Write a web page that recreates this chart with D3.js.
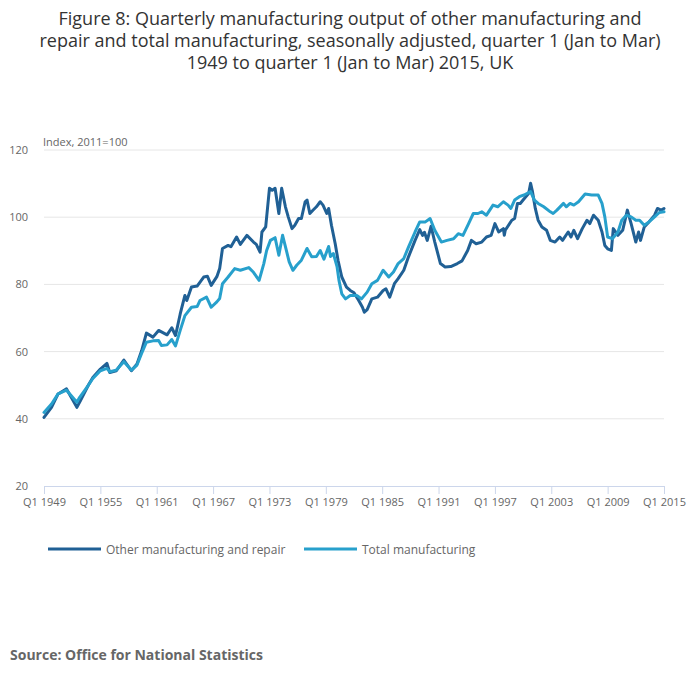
<!DOCTYPE html>
<html>
<head>
<meta charset="utf-8">
<script src="https://cdn.jsdelivr.net/npm/d3@7"></script>
<style>
  html, body { margin: 0; padding: 0; background: #fff; }
  svg { display: block; font-family: "Open Sans", "Noto Sans", sans-serif; }
</style>
</head>
<body>
<svg id="chart" width="700" height="682"></svg>
<script>
// ---- Data ----
const titleLines = [
  "Figure 8: Quarterly manufacturing output of other manufacturing and",
  "repair and total manufacturing, seasonally adjusted, quarter 1 (Jan to Mar)",
  "1949 to quarter 1 (Jan to Mar) 2015, UK"
];
const seriesNames = ["Other manufacturing and repair", "Total manufacturing"];
const yTicks = [20, 40, 60, 80, 100, 120];
const xTickYears = [1949, 1955, 1961, 1967, 1973, 1979, 1985, 1991, 1997, 2003, 2009, 2015];

// Other manufacturing and repair: time (year fraction) and index value
const otherTimes = [1949.0,1949.8,1950.5,1951.4,1952.5,1952.9,1953.7,1954.2,1955.0,1955.7,1956.0,1956.7,1957.5,1958.3,1958.9,1959.4,1959.9,1960.6,1961.2,1962.1,1962.6,1963.0,1963.5,1964.0,1964.2,1964.7,1965.3,1966.0,1966.4,1966.8,1967.4,1967.7,1968.0,1968.6,1968.9,1969.5,1969.9,1970.6,1971.3,1971.6,1972.0,1972.2,1972.6,1973.0,1973.3,1973.6,1974.0,1974.3,1974.7,1975.0,1975.4,1975.7,1976.1,1976.4,1976.8,1977.0,1977.3,1977.6,1978.0,1978.4,1978.7,1979.1,1979.3,1979.6,1980.0,1980.3,1980.7,1981.2,1981.6,1982.0,1982.4,1982.9,1983.1,1983.4,1983.9,1984.5,1985.1,1985.4,1985.8,1986.3,1986.7,1987.3,1987.8,1988.5,1989.0,1989.3,1989.5,1989.8,1990.2,1990.6,1991.2,1991.7,1992.3,1993.0,1993.5,1994.1,1994.5,1995.0,1995.6,1996.1,1996.6,1997.0,1997.4,1997.9,1998.0,1998.1,1998.8,1999.1,1999.4,1999.7,2000.0,2000.6,2000.8,2001.0,2001.3,2001.6,2002.0,2002.5,2002.9,2003.4,2003.9,2004.2,2004.8,2005.1,2005.4,2005.8,2006.3,2006.8,2007.1,2007.5,2008.0,2008.4,2008.7,2009.0,2009.4,2009.6,2010.1,2010.6,2011.1,2011.5,2012.0,2012.3,2012.5,2012.9,2013.4,2014.0,2014.3,2014.7,2015.0];
const otherValues = [40.4,43.4,47.4,48.9,43.4,45.5,49.9,52.3,54.8,56.5,53.8,54.3,57.5,54.3,56.3,60.3,65.5,64.3,66.3,65.0,67.1,64.8,71.2,76.7,75.2,79.2,79.5,82.2,82.4,79.7,82.3,84.7,90.7,91.6,91.2,94.1,91.9,94.6,92.6,91.9,89.6,95.6,97.1,108.6,108.0,108.6,101.1,108.6,103.1,100.1,96.6,97.6,99.6,99.6,104.6,105.1,101.1,102.0,103.1,104.6,103.6,101.1,102.6,97.6,92.1,87.2,82.2,79.2,78.2,77.5,75.7,73.2,71.7,72.5,75.7,76.2,78.2,78.7,76.2,80.2,81.7,84.2,88.2,93.1,96.3,94.6,95.5,93.1,97.3,92.6,86.2,85.2,85.3,86.2,87.0,90.1,93.1,92.1,92.6,94.1,94.6,98.1,95.6,96.6,94.6,96.1,99.1,99.6,104.1,104.1,105.1,107.1,110.1,107.6,102.6,99.1,97.1,96.1,93.1,92.6,94.1,93.1,95.6,94.1,96.1,93.6,96.6,99.1,98.1,100.6,99.1,95.6,91.6,90.6,90.1,96.6,94.6,96.1,102.1,98.1,92.6,95.6,93.1,97.1,98.6,100.6,102.6,102.1,102.6];

// Total manufacturing: time (year fraction) and index value
const totalTimes = [1949.0,1949.8,1950.5,1951.4,1952.5,1952.8,1953.7,1954.2,1955.0,1955.7,1956.0,1956.7,1957.5,1958.3,1958.9,1959.4,1959.9,1960.6,1961.2,1961.5,1962.1,1962.6,1963.0,1963.5,1964.0,1964.7,1965.3,1965.6,1966.3,1966.8,1967.4,1967.7,1968.0,1968.6,1969.3,1969.9,1970.8,1971.3,1971.9,1972.4,1972.7,1973.1,1973.6,1974.0,1974.4,1974.8,1975.1,1975.5,1975.9,1976.4,1977.0,1977.5,1978.0,1978.4,1978.8,1979.3,1979.5,1979.8,1980.2,1980.4,1980.7,1981.1,1981.6,1982.3,1982.8,1983.4,1983.9,1984.5,1985.1,1985.7,1986.2,1986.7,1987.3,1987.8,1988.5,1989.0,1989.6,1990.1,1990.6,1991.3,1991.9,1992.6,1993.1,1993.6,1994.2,1994.7,1995.2,1995.6,1996.1,1996.8,1997.3,1997.9,1998.4,1998.7,1999.1,1999.6,2000.1,2000.8,2001.2,2001.6,2002.2,2002.9,2003.2,2003.6,2004.3,2004.6,2005.0,2005.4,2005.9,2006.6,2007.3,2008.0,2008.4,2008.7,2009.0,2009.5,2010.1,2010.5,2011.0,2011.5,2012.0,2012.4,2012.9,2013.4,2014.0,2014.5,2015.0];
const totalValues = [41.9,44.4,47.4,48.5,44.9,46.4,49.9,52.0,54.3,55.0,54.0,54.5,57.0,54.5,56.0,59.5,62.8,63.2,63.3,61.8,62.0,63.6,61.7,66.3,70.7,73.2,73.4,75.2,76.2,73.2,74.8,75.8,80.2,82.2,84.7,84.2,85.0,83.6,81.2,86.2,90.1,93.1,93.9,88.7,94.6,90.1,86.7,84.2,85.7,87.2,90.7,88.2,88.3,90.1,87.5,91.3,88.3,89.2,85.2,81.2,77.2,75.7,76.7,76.7,75.7,77.7,80.2,81.2,84.2,82.2,83.7,86.2,87.7,91.1,95.6,98.6,98.6,99.6,96.1,92.6,93.1,93.6,95.1,94.6,98.1,101.1,101.1,101.6,100.6,103.6,103.1,104.6,103.6,102.6,105.1,106.1,106.6,107.6,105.1,104.1,103.1,101.6,101.1,102.1,104.1,103.1,104.1,103.6,104.6,106.9,106.6,106.6,104.1,100.1,94.1,93.6,95.6,99.1,100.6,100.1,99.1,99.1,97.6,98.6,100.1,101.4,101.6];

const colors = ["#206095", "#27a0cc"];

// ---- Drawing ----
const svg = d3.select("#chart");
const margin = { left: 44, right: 36, top: 150, bottom: 196 };
const W = 700, H = 682;

const x = d3.scaleLinear().domain([1949, 2015]).range([margin.left, W - margin.right]);
const y = d3.scaleLinear().domain([20, 120]).range([H - margin.bottom, margin.top]);

// Title
svg.append("g").selectAll("text").data(titleLines).join("text")
  .attr("x", 350).attr("y", (d, i) => 25 + i * 22)
  .attr("text-anchor", "middle")
  .attr("fill", "#333333")
  .style("font-size", "18px")
  .text(d => d);

// Gridlines
svg.append("g").selectAll("line").data(yTicks.filter(d => d !== 20)).join("line")
  .attr("x1", x.range()[0]).attr("x2", x.range()[1])
  .attr("y1", d => y(d)).attr("y2", d => y(d))
  .attr("stroke", "#e6e6e6").attr("stroke-width", 1);

// Y axis labels
svg.append("g").selectAll("text").data(yTicks).join("text")
  .attr("x", 28).attr("y", d => y(d) + 4)
  .attr("text-anchor", "end")
  .attr("fill", "#666666")
  .style("font-size", "11px")
  .text(d => d);

// Y axis title
svg.append("text")
  .attr("x", 43).attr("y", 146)
  .attr("fill", "#666666")
  .style("font-size", "11px")
  .text("Index, 2011=100");

// X axis
const xAxis = d3.axisBottom(x)
  .tickValues(xTickYears)
  .tickSize(8)
  .tickFormat(d => "Q1 " + d);
const gx = svg.append("g").attr("transform", `translate(0,${y(20)})`).call(xAxis);
gx.select(".domain").attr("stroke", "#ccd6eb").attr("d", `M${x.range()[0]},0.5H${x.range()[1]}`);
gx.selectAll(".tick line").attr("stroke", "#ccd6eb");
gx.selectAll(".tick text")
  .attr("fill", "#666666")
  .attr("dy", "0.71em")
  .attr("y", 12)
  .style("font-size", "11px")
  .style("font-family", "'Open Sans', sans-serif");

// Lines
const seriesList = [
  { name: seriesNames[0], pts: otherTimes.map((t, i) => [t, otherValues[i]]), color: colors[0] },
  { name: seriesNames[1], pts: totalTimes.map((t, i) => [t, totalValues[i]]), color: colors[1] }
];
const line = d3.line().x(d => x(d[0])).y(d => y(d[1]));

svg.append("g").selectAll("path").data(seriesList).join("path")
  .attr("d", d => line(d.pts))
  .attr("fill", "none")
  .attr("stroke", d => d.color)
  .attr("stroke-width", 3)
  .attr("stroke-linejoin", "round")
  .attr("stroke-linecap", "round");

// Legend
const legendX = [48, 304];
const lg = svg.append("g").selectAll("g").data(seriesList).join("g")
  .attr("transform", (d, i) => `translate(${legendX[i]},549)`);
lg.append("line").attr("x1", 0).attr("x2", 53).attr("y1", 0).attr("y2", 0)
  .attr("stroke", d => d.color).attr("stroke-width", 3);
lg.append("text").attr("x", 58).attr("y", 5)
  .attr("fill", "#666666")
  .style("font-size", "12px")
  .text(d => d.name);

// Source
svg.append("text")
  .attr("x", 10).attr("y", 660)
  .attr("fill", "#666666")
  .style("font-size", "14px")
  .style("font-weight", "bold")
  .text("Source: Office for National Statistics");
</script>
</body>
</html>
